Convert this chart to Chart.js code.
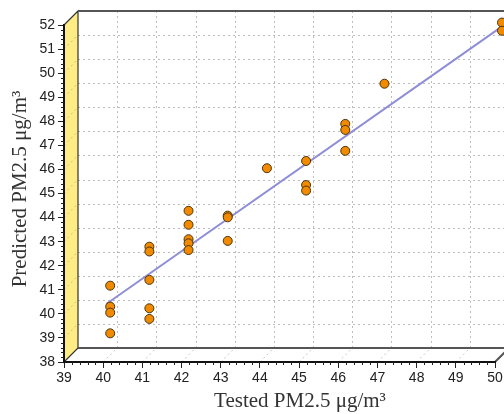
<!DOCTYPE html>
<html>
<head>
<meta charset="utf-8">
<script src="https://cdn.jsdelivr.net/npm/chart.js@4.4.1/dist/chart.umd.min.js"></script>
<style>
  html, body { margin: 0; padding: 0; background: #fff; }
  #grafica { display: block; }
</style>
</head>
<body>
<canvas id="grafica" width="504" height="414"></canvas>
<script>
const tested = [40, 40, 40, 40, 41, 41, 41, 41, 41, 42, 42, 42, 42, 42, 43, 43, 43, 44, 45, 45, 45, 46, 46, 46, 47, 50, 50];
const predicted = [40.88, 40.01, 39.76, 38.90, 42.50, 42.30, 41.12, 39.94, 39.50, 43.99, 43.41, 42.81, 42.64, 42.36,
  43.79, 43.72, 42.74, 45.76, 46.06, 45.06, 44.83, 47.60, 47.35, 46.48, 49.27, 51.81, 51.47];
const fitX = [39.9, 49.95];
const fitY = [40.12, 51.59];
const xTickValues = [39, 40, 41, 42, 43, 44, 45, 46, 47, 48, 49, 50];
const yTickValues = [38, 39, 40, 41, 42, 43, 44, 45, 46, 47, 48, 49, 50, 51, 52];
const xTitle = 'Tested PM2.5 μg/m³';
const yTitle = 'Predicted PM2.5 μg/m³';

const DEPTH = 14;

const paredes = {
  id: 'paredes',
  beforeDraw(chart) {
    const { ctx, chartArea: a, scales: { x, y } } = chart;
    const d = DEPTH;
    ctx.save();

    // suelo
    ctx.fillStyle = '#fff';
    ctx.beginPath();
    ctx.moveTo(a.left, a.bottom);
    ctx.lineTo(a.right, a.bottom);
    ctx.lineTo(a.right + d, a.bottom - d);
    ctx.lineTo(a.left + d, a.bottom - d);
    ctx.closePath();
    ctx.fill();

    // pared del fondo y su rejilla
    ctx.strokeStyle = '#bdbdbd';
    ctx.lineWidth = 1;
    ctx.setLineDash([2, 3]);
    xTickValues.slice(1).forEach(v => {
      const px = Math.round(x.getPixelForValue(v) + d) + 0.5;
      ctx.beginPath();
      ctx.moveTo(px, a.top - d);
      ctx.lineTo(px, a.bottom - d);
      ctx.stroke();
    });
    yTickValues.slice(1).forEach(v => {
      const py = Math.round(y.getPixelForValue(v) - d) + 0.5;
      ctx.beginPath();
      ctx.moveTo(a.left + d, py);
      ctx.lineTo(a.right + d, py);
      ctx.stroke();
    });

    // diagonales del suelo y de la pared izquierda
    ctx.strokeStyle = '#c8c8c8';
    xTickValues.slice(1).forEach(v => {
      const px = x.getPixelForValue(v);
      ctx.beginPath();
      ctx.moveTo(px, a.bottom);
      ctx.lineTo(px + d, a.bottom - d);
      ctx.stroke();
    });

    // pared izquierda amarilla
    ctx.setLineDash([]);
    ctx.fillStyle = '#FFEC85';
    ctx.beginPath();
    ctx.moveTo(a.left, a.top);
    ctx.lineTo(a.left + d, a.top - d);
    ctx.lineTo(a.left + d, a.bottom - d);
    ctx.lineTo(a.left, a.bottom);
    ctx.closePath();
    ctx.fill();
    ctx.strokeStyle = '#333';
    ctx.lineWidth = 1.2;
    ctx.stroke();

    ctx.setLineDash([2, 3]);
    ctx.strokeStyle = '#d2c170';
    ctx.lineWidth = 1;
    yTickValues.slice(1, -1).forEach(v => {
      const py = y.getPixelForValue(v);
      ctx.beginPath();
      ctx.moveTo(a.left, py);
      ctx.lineTo(a.left + d, py - d);
      ctx.stroke();
    });

    // bordes de la pared del fondo
    ctx.setLineDash([]);
    ctx.strokeStyle = '#555';
    ctx.lineWidth = 2;
    ctx.beginPath();
    ctx.moveTo(a.left + d, a.top - d);
    ctx.lineTo(a.right + d + 2, a.top - d);
    ctx.moveTo(a.left + d, a.bottom - d);
    ctx.lineTo(a.right + d + 2, a.bottom - d);
    ctx.moveTo(a.right, a.bottom);
    ctx.lineTo(a.right + d, a.bottom - d);
    ctx.stroke();
    ctx.restore();
  },
  beforeDatasetsDraw(chart) {
    chart.ctx.save();
    chart.ctx.translate(DEPTH / 2, -DEPTH / 2);
  },
  afterDatasetsDraw(chart) {
    chart.ctx.restore();
  },
  afterDraw(chart) {
    const { ctx, chartArea: a, scales: { x, y } } = chart;
    ctx.save();
    // marcas menores
    ctx.strokeStyle = '#222';
    ctx.lineWidth = 1;
    ctx.beginPath();
    for (let i = 1; i < 70; i++) {
      if (i % 5 === 0) continue;
      const py = Math.round(y.getPixelForValue(38 + i * 0.2)) + 0.5;
      ctx.moveTo(a.left - 3, py);
      ctx.lineTo(a.left, py);
    }
    for (let i = 1; i < 55; i++) {
      if (i % 5 === 0) continue;
      const px = Math.round(x.getPixelForValue(39 + i * 0.2)) + 0.5;
      ctx.moveTo(px, a.bottom);
      ctx.lineTo(px, a.bottom + 3);
    }
    ctx.stroke();

    // títulos de los ejes
    ctx.fillStyle = '#333';
    ctx.font = '21px "Liberation Serif", serif';
    ctx.textAlign = 'center';
    ctx.textBaseline = 'middle';
    ctx.fillText(xTitle, 300, 401);
    ctx.translate(20, 189);
    ctx.rotate(-Math.PI / 2);
    ctx.fillText(yTitle, 0, 0);
    ctx.restore();
  }
};

const ejeComun = (valores) => ({
  type: 'linear',
  afterBuildTicks: s => { s.ticks = valores.map(v => ({ value: v })); },
  ticks: { color: '#222', font: { family: '"Liberation Sans", Arial, sans-serif', size: 14 } },
  grid: { drawOnChartArea: false, drawTicks: true, tickLength: 6, tickColor: '#222', tickWidth: 1 },
  border: { display: true, color: '#111', width: 2 }
});

const escalaX = ejeComun(xTickValues);
escalaX.min = 39; escalaX.max = 50;
escalaX.ticks.padding = 2;
escalaX.afterFit = s => { s.height = 52; s.paddingLeft = 0; s.paddingRight = 0; };

const escalaY = ejeComun(yTickValues);
escalaY.min = 38; escalaY.max = 52;
escalaY.ticks.padding = 3;
escalaY.afterFit = s => { s.width = 64; s.paddingTop = 0; s.paddingBottom = 0; };

new Chart(document.getElementById('grafica'), {
  type: 'scatter',
  data: {
    datasets: [
      {
        type: 'line',
        data: fitX.map((v, i) => ({ x: v, y: fitY[i] })),
        borderColor: '#8E8ED8',
        borderWidth: 2,
        pointRadius: 0,
        fill: false,
        clip: false,
        order: 2
      },
      {
        data: tested.map((v, i) => ({ x: v, y: predicted[i] })),
        backgroundColor: '#F28A00',
        borderColor: '#4a3410',
        borderWidth: 1,
        pointRadius: 4.5,
        clip: false,
        order: 1
      }
    ]
  },
  options: {
    responsive: false,
    animation: false,
    devicePixelRatio: 1,
    layout: { padding: { top: 25, right: 9, left: 0, bottom: 0 } },
    plugins: { legend: { display: false }, tooltip: { enabled: false } },
    scales: { x: escalaX, y: escalaY }
  },
  plugins: [paredes]
});
</script>
</body>
</html>
